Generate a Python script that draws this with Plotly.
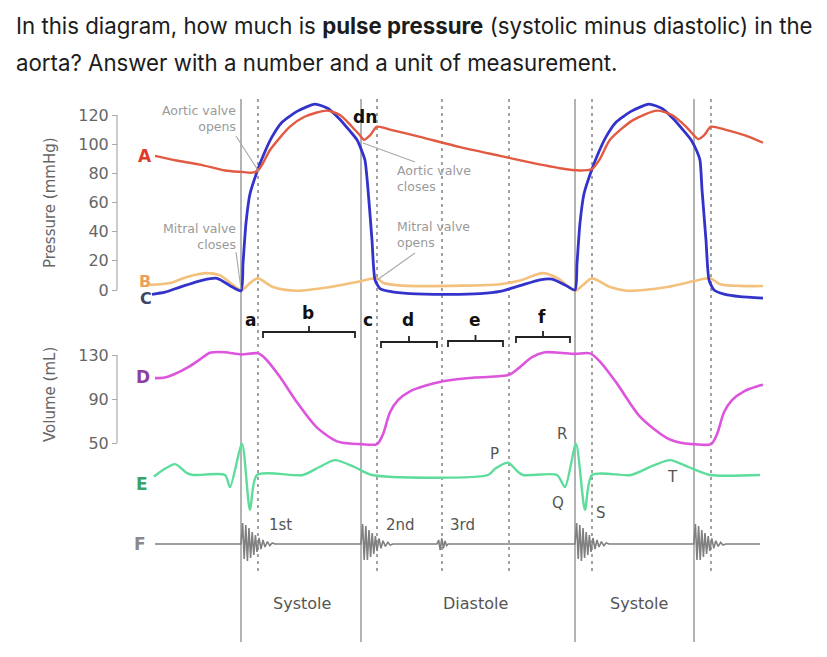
import plotly.graph_objects as go

# ---------------- data (time in ms, 0 = R wave of first beat) ----------------
# A: aortic pressure (mmHg)
t_ao = [-215, -165, -102.5, -40, 0, 27.5, 42.5, 55, 72.5, 122.5, 160, 215, 247.5, 277.5, 297.5,
        307.5, 322.5, 340, 372.5, 447.5, 547.5, 647.5, 722.5, 797.5, 847.5, 877.5, 897.5, 922.5,
        980, 1040, 1077.5, 1112.5, 1132.5, 1142.5, 1157.5, 1175, 1210, 1260, 1305]
p_ao = [92, 89, 86, 82, 81, 80.5, 82, 87, 96, 112, 119, 123, 120, 112, 106,
        103, 106, 112, 110, 105, 98, 92, 87.5, 83.5, 82, 83, 90, 103,
        116.5, 123, 120, 112, 106, 103.5, 106, 112, 110, 106, 101]

# B: atrial pressure (mmHg)
t_la = [-227.5, -177.5, -135, -85, -52.5, -20, 2.5, 22.5, 42.5, 80, 140, 222.5, 290, 340, 355,
        405, 555, 647.5, 697.5, 755, 792.5, 835, 855, 877.5, 922.5, 965, 1065, 1130, 1172.5,
        1197.5, 1247.5, 1305]
p_la = [3.5, 4.8, 9, 11.6, 10, 3.4, 0, 4.8, 8, 2, -0.5, 2, 5.5, 8, 5,
        3, 3, 4, 6.5, 11.6, 8, -0.5, 3.4, 8, 2, -0.5, 2, 6, 8,
        4, 2.8, 2.7]

# C: ventricular pressure (mmHg)
t_lv = [-222.5, -190, -152.5, -95, -60, -27.5, 0, 5, 12.5, 22.5, 42.5, 60, 77.5, 102.5, 140, 185,
        217.5, 247.5, 272.5, 290, 302.5, 310, 317.5, 327.5, 335, 347.5, 372.5, 422.5, 522.5,
        597.5, 647.5, 697.5, 747.5, 777.5, 810, 835, 840, 847.5, 857.5, 877.5, 895, 912.5, 937.5,
        975, 1020, 1052.5, 1082.5, 1107.5, 1125, 1140, 1147.5, 1152.5, 1162.5, 1170, 1182.5,
        1210, 1247.5, 1305]
p_lv = [-3, -1.5, 2, 6.8, 8, 3, -0.5, 18, 46, 66, 83, 95, 105, 115, 122.5, 127.5,
        124.5, 117, 109, 103, 95, 89, 69, 34, 7, 1, -1, -2.5, -3,
        -2.5, -1, 3, 7, 7.5, 3.5, 0, 18, 46, 66, 83, 95, 105, 115,
        122.5, 127.5, 124.5, 117, 109, 103, 95, 89, 69, 34, 7, 0,
        -3, -4.5, -5.5]

# D: ventricular volume (mL)
t_vol = [-215, -190, -170, -127.5, -102.5, -77.5, -40, 0, 42.5, 60, 97.5, 140, 190, 240, 272.5,
         300, 340, 355, 372.5, 392.5, 422.5, 460, 502.5, 585, 670, 697.5, 727.5, 760, 797.5,
         835, 872.5, 897.5, 940, 997.5, 1065, 1110, 1132.5, 1175, 1190, 1207.5, 1227.5, 1257.5,
         1295, 1305]
v_vol = [109, 109.5, 112, 120, 126, 132, 132.5, 130.5, 131.5, 127, 110, 87, 64, 51.5, 49.5,
         49, 49, 58, 78, 89, 97, 102, 106, 109.5, 112, 119, 128, 132.5, 132,
         131, 131.5, 124, 104, 74, 54.5, 49.5, 49, 49, 58, 78, 89, 97,
         102, 103]

# E: electrocardiogram (mV)
t_ecg = [-217.5, -195, -165, -135, -120, -40, -27.5, 2.5, 22.5, 40, 155, 195, 235, 285, 327.5,
         617.5, 635, 667.5, 692.5, 705, 790, 810, 837.5, 860, 877.5, 975, 1030, 1072.5, 1120,
         1172.5, 1297.5]
v_ecg = [-0.05, 0.16, 0.35, 0.06, 0, 0, -0.39, 1.0, -1.13, 0, 0, 0.25, 0.48, 0.25, 0,
         0, 0.2, 0.4, 0.1, 0, 0, -0.39, 1.0, -1.13, 0, 0, 0.3, 0.48, 0.25,
         0, 0]

# F: phonocardiogram (arbitrary units)
t_pcg = [-215,
         0, 4, 8, 12, 16, 20, 24, 28, 32, 36, 40, 45, 50, 55, 60, 66, 72, 78, 85,
         300, 304, 308, 312, 316, 320, 324, 328, 332, 336, 340, 345, 350, 355, 361, 367, 373, 380,
         490, 494, 498, 502, 506, 510, 514, 518,
         835, 839, 843, 847, 851, 855, 859, 863, 867, 871, 875, 880, 885, 890, 895, 901, 907, 913, 920,
         1132, 1136, 1140, 1144, 1148, 1152, 1156, 1160, 1164, 1168, 1172, 1177, 1182, 1187, 1193, 1199, 1205, 1212,
         1297.5]
v_pcg = [0,
         0, 1.05, -0.75, 0.95, -0.85, 0.8, -0.7, 0.6, -0.55, 0.45, -0.4, 0.3, -0.25, 0.2, -0.15, 0.12, -0.08, 0.05, 0,
         0, 1.0, -0.8, 0.9, -0.8, 0.7, -0.65, 0.55, -0.5, 0.4, -0.35, 0.28, -0.22, 0.16, -0.12, 0.08, -0.05, 0,
         0, 0.2, -0.3, 0.28, -0.22, 0.15, -0.08, 0,
         0, 1.05, -0.75, 0.95, -0.85, 0.8, -0.7, 0.6, -0.55, 0.45, -0.4, 0.3, -0.25, 0.2, -0.15, 0.12, -0.08, 0.05, 0,
         0, 1.0, -0.8, 0.9, -0.8, 0.7, -0.65, 0.55, -0.5, 0.4, -0.35, 0.28, -0.22, 0.16, -0.12, 0.08, -0.05, 0,
         0]

# events (ms)
solid_events = [0, 300, 835, 1132.5]
dashed_events = [42.5, 340, 502.5, 670, 877.5, 1175]

# phases (start, end) ms for brackets
phase_b = (55, 285)
phase_d = (350, 490)
phase_e = (517.5, 655)
phase_f = (687.5, 822.5)

pressure_ticks = [0, 20, 40, 60, 80, 100, 120]
volume_ticks = [50, 90, 130]

# ---------------- figure ----------------
W, H = 827, 657
AX_X = 117 / W
def py(p):  # pixel row -> paper fraction
    return 1 - p / H

FONT = "DejaVu Sans"
GRAY = "#666666"

fig = go.Figure()
fig.add_trace(go.Scatter(x=t_la, y=p_la, mode="lines", yaxis="y",
                         line=dict(color="#f3c17c", width=2.6, shape="spline", smoothing=0.8)))
fig.add_trace(go.Scatter(x=t_lv, y=p_lv, mode="lines", yaxis="y",
                         line=dict(color="#3333cc", width=2.8, shape="spline", smoothing=0.6)))
fig.add_trace(go.Scatter(x=t_ao, y=p_ao, mode="lines", yaxis="y",
                         line=dict(color="#e35a42", width=2.4, shape="spline", smoothing=0.7)))
fig.add_trace(go.Scatter(x=t_vol, y=v_vol, mode="lines", yaxis="y2",
                         line=dict(color="#dd55dd", width=2.6, shape="spline", smoothing=0.8)))
fig.add_trace(go.Scatter(x=t_ecg, y=v_ecg, mode="lines", yaxis="y3",
                         line=dict(color="#5ddc9c", width=2.4, shape="spline", smoothing=0.7)))
fig.add_trace(go.Scatter(x=t_pcg, y=v_pcg, mode="lines", yaxis="y4",
                         line=dict(color="#808080", width=1.6)))

shapes = []
for t in solid_events:
    shapes.append(dict(type="line", xref="x", yref="paper", x0=t, x1=t, y0=py(99), y1=py(642),
                       line=dict(color="#8c8c8c", width=1.3), layer="below"))
for t in dashed_events:
    shapes.append(dict(type="line", xref="x", yref="paper", x0=t, x1=t, y0=py(99), y1=py(574),
                       line=dict(color="#8c8c8c", width=1.6, dash="3px,4px"), layer="below"))
# axis spines
shapes.append(dict(type="line", xref="paper", yref="y", x0=AX_X, x1=AX_X, y0=0, y1=120,
                   line=dict(color="#aaaaaa", width=1.2)))
shapes.append(dict(type="line", xref="paper", yref="y2", x0=AX_X, x1=AX_X, y0=50, y1=130,
                   line=dict(color="#aaaaaa", width=1.2)))
# brackets
for (t0, t1), yb in [(phase_b, 332), (phase_d, 342), (phase_e, 341), (phase_f, 337)]:
    tm = (t0 + t1) / 2
    path = (f"M {t0},{py(yb + 6)} L {t0},{py(yb)} L {t1},{py(yb)} L {t1},{py(yb + 6)} "
            f"M {tm},{py(yb)} L {tm},{py(yb - 6)}")
    shapes.append(dict(type="path", xref="x", yref="paper", path=path,
                       line=dict(color="#222222", width=1.8)))
# pointer lines for valve notes
for (xa, ya, xb, yb) in [(-12.5, 105.6, 45, 81), (-12.5, 26, 0, 0.7),
                         (305, 100.8, 435, 87.8), (435, 25.4, 340, 6.9)]:
    shapes.append(dict(type="line", xref="x", yref="y", x0=xa, y0=ya, x1=xb, y1=yb,
                       line=dict(color="#a8a8a8", width=1.1)))

ann = []
def txt(text, x, y, size=15, color=GRAY, xanchor="center", yanchor="middle", align="center",
        family=FONT, angle=0):
    ann.append(dict(text=text, x=x / W, y=py(y), xref="paper", yref="paper", showarrow=False,
                    xanchor=xanchor, yanchor=yanchor, align=align, textangle=angle,
                    font=dict(family=family, size=size, color=color)))

# question text
txt("In this diagram, how much is <b>pulse pressure</b> (systolic minus diastolic) in the",
    14, 25, size=22.25, color="#1c1c1c", xanchor="left", family="Inter")
txt("aorta? Answer with a number and a unit of measurement.",
    14, 62, size=22.25, color="#1c1c1c", xanchor="left", family="Inter")

# axis titles
txt("Pressure (mmHg)", 50, 203, size=15, color=GRAY, angle=-90)
txt("Volume (mL)", 50, 395, size=15, color=GRAY, angle=-90)

# curve letters
txt("<b>A</b>", 145, 156, size=17, color="#dd3b2b")
txt("<b>B</b>", 145, 281, size=16, color="#eba05a")
txt("<b>C</b>", 146, 299, size=16, color="#3d4466")
txt("<b>D</b>", 143, 377, size=17, color="#8e3f9f")
txt("<b>E</b>", 142, 484, size=17, color="#3aa466")
txt("<b>F</b>", 140, 544, size=17, color="#8a8a8a")

# phase letters
for s, x, y in [("a", 250, 320), ("b", 308, 313), ("c", 368, 320), ("d", 408, 320),
                ("e", 475, 320), ("f", 542, 317), ("dn", 365, 117)]:
    txt(f"<b>{s}</b>", x, y, size=17, color="#111111")

# valve notes
NOTE = "#9a9a9a"
txt("Aortic valve<br>opens", 238, 118, size=12.5, color=NOTE, xanchor="right", align="right")
txt("Mitral valve<br>closes", 238, 236, size=12.5, color=NOTE, xanchor="right", align="right")
txt("Aortic valve<br>closes", 395, 179, size=12.5, color=NOTE, xanchor="left", align="left")
txt("Mitral valve<br>opens", 395, 234, size=12.5, color=NOTE, xanchor="left", align="left")

# ECG labels
for s, x, y in [("P", 495, 454), ("R", 562, 434), ("Q", 558, 503), ("S", 601, 513), ("T", 672, 477)]:
    txt(s, x, y, size=15, color="#555555")

# heart sounds
txt("1st", 280, 525, size=15, color="#555555")
txt("2nd", 400, 525, size=15, color="#555555")
txt("3rd", 462, 525, size=15, color="#555555")

# cycle phases
txt("Systole", 302, 603, size=16, color="#555555")
txt("Diastole", 475, 603, size=16, color="#555555")
txt("Systole", 639, 603, size=16, color="#555555")

axis_common = dict(showgrid=False, zeroline=False, showline=False, ticks="outside", ticklen=5,
                   tickcolor="#aaaaaa", tickwidth=1.2,
                   tickfont=dict(family=FONT, size=16, color=GRAY), anchor="free", position=AX_X)

fig.update_layout(
    width=W, height=H, margin=dict(l=0, r=0, t=0, b=0),
    paper_bgcolor="white", plot_bgcolor="white", showlegend=False,
    xaxis=dict(range=[-602.5, 1465], domain=[0, 1], visible=False),
    yaxis=dict(range=[-251.7, 198.9], domain=[0, 1], tickvals=pressure_ticks, **axis_common),
    yaxis2=dict(range=[-144.5, 452.7], overlaying="y", tickvals=volume_ticks, **axis_common),
    yaxis3=dict(range=[-5.87, 15.32], overlaying="y", visible=False),
    yaxis4=dict(range=[-5.65, 27.2], overlaying="y", visible=False),
    shapes=shapes, annotations=ann,
)

fig.write_html("out.html", config={"displayModeBar": False},
               post_script="document.body.style.margin='0';")
